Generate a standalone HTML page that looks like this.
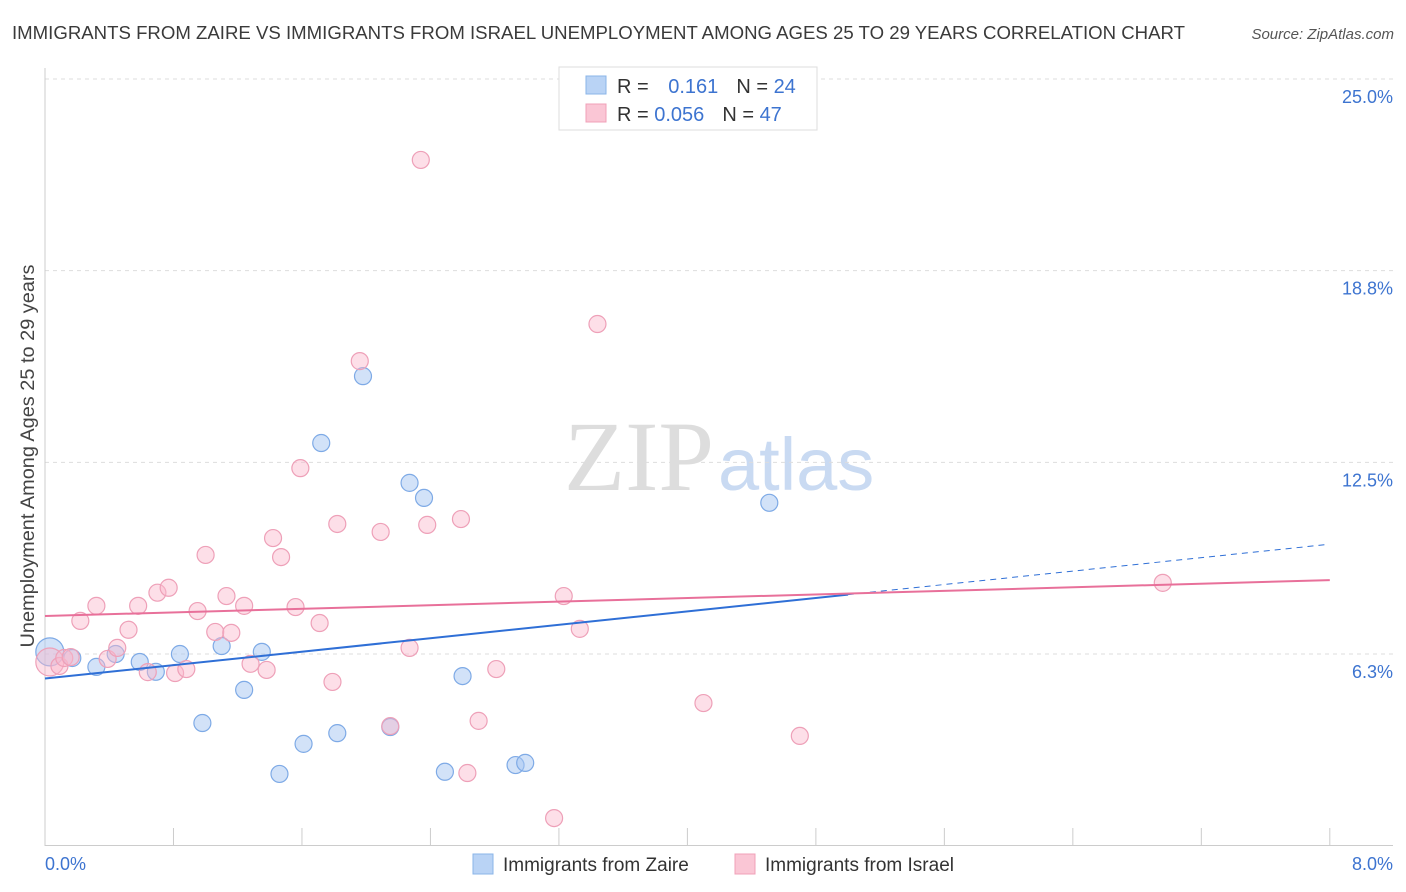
<!DOCTYPE html>
<html><head><meta charset="utf-8"><style>
body{margin:0;background:#fff;font-family:"Liberation Sans",sans-serif;}
#wrap{position:relative;width:1406px;height:892px;overflow:hidden;}
</style></head><body>
<div id="wrap">
<svg id="svg" width="1406" height="892" xmlns="http://www.w3.org/2000/svg">
<text x="12" y="39" font-size="18" textLength="1173" lengthAdjust="spacingAndGlyphs" fill="#3a3a3a">IMMIGRANTS FROM ZAIRE VS IMMIGRANTS FROM ISRAEL UNEMPLOYMENT AMONG AGES 25 TO 29 YEARS CORRELATION CHART</text>
<text x="1394" y="39" font-size="15" fill="#555" font-style="italic" text-anchor="end">Source: ZipAtlas.com</text>
<text x="714" y="490" font-size="100" fill="#ddd" text-anchor="end" font-family="Liberation Serif,serif">ZIP</text>
<text x="718" y="490" font-size="74" fill="#c9daf2">atlas</text>
<text transform="translate(34,456) rotate(-90)" font-size="19" textLength="383" lengthAdjust="spacingAndGlyphs" fill="#444" text-anchor="middle">Unemployment Among Ages 25 to 29 years</text>
<g id="grid"></g><g id="marks"></g>
<g>
<rect x="559" y="67" width="258" height="63" fill="#fff" stroke="#ddd"/>
<rect x="586" y="76" width="20" height="18" fill="#b9d3f5" stroke="#8ab4e8"/>
<rect x="586" y="104" width="20" height="18" fill="#fac6d5" stroke="#f0a0b8"/>
<text x="617" y="93" font-size="20" fill="#333">R = <tspan fill="#3d74d0" dx="14">0.161</tspan><tspan dx="18" fill="#333">N = </tspan><tspan fill="#3d74d0">24</tspan></text>
<text x="617" y="121" font-size="20" fill="#333">R = <tspan fill="#3d74d0">0.056</tspan><tspan dx="18" fill="#333">N = </tspan><tspan fill="#3d74d0">47</tspan></text>
</g>
<g>
<rect x="473" y="854" width="20" height="20" fill="#b9d3f5" stroke="#8ab4e8"/>
<text x="503" y="871" font-size="19" fill="#333">Immigrants from Zaire</text>
<rect x="735" y="854" width="20" height="20" fill="#fac6d5" stroke="#f0a0b8"/>
<text x="765" y="871" font-size="19" fill="#333">Immigrants from Israel</text>
</g>
</svg></div>
<script>
const zaireX=[.03,.17,.32,.44,.59,.69,.84,.98,1.10,1.24,1.35,1.46,1.61,1.72,1.82,1.98,2.15,2.27,2.36,2.49,2.60,2.93,2.99,4.51];
const zaireY=[6.32,6.12,5.83,6.25,5.99,5.67,6.25,4.00,6.51,5.08,6.32,2.34,3.32,13.13,3.67,15.31,3.87,11.83,11.34,2.41,5.53,2.63,2.70,11.18];
const israelX=[.03,.09,.12,.16,.22,.32,.39,.45,.52,.58,.64,.70,.77,.81,.88,.95,1.00,1.06,1.13,1.16,1.24,1.28,1.38,1.42,1.47,1.56,1.59,1.71,1.79,1.82,1.96,2.09,2.15,2.27,2.34,2.38,2.59,2.63,2.70,2.81,3.17,3.23,3.33,3.44,4.10,4.70,6.96];
const israelY=[5.99,5.86,6.12,6.15,7.33,7.82,6.09,6.45,7.04,7.82,5.66,8.25,8.41,5.63,5.76,7.65,9.48,6.97,8.14,6.94,7.82,5.93,5.73,10.03,9.41,7.78,12.31,7.26,5.34,10.49,15.80,10.23,3.90,6.45,22.36,10.46,10.65,2.37,4.07,5.76,0.90,8.14,7.07,17.01,4.65,3.58,8.57];
const zaireTrend=[5.45,9.83];
const israelTrend=[7.49,8.66];
const yTicks=[6.3,12.5,18.8,25.0];
const yTickLabels=["6.3%","12.5%","18.8%","25.0%"];
const xTickLabels=["0.0%","8.0%"];
const NS="http://www.w3.org/2000/svg";
const X=v=>45+v*160.6, Y=v=>845.7-v*30.67;
function el(t,a,p){const e=document.createElementNS(NS,t);for(const k in a)e.setAttribute(k,a[k]);p.appendChild(e);return e;}
const grid=document.getElementById('grid'),marks=document.getElementById('marks');
yTicks.forEach((t,i)=>{
 const yy=Y(t===6.3?6.25:t===18.8?18.75:t);
 const l=el('line',{x1:45,x2:1393,y1:yy,y2:yy,stroke:'#ddd','stroke-dasharray':'4,4'},grid);
 
 
 const tx=el('text',{x:1393,y:yy+24,'font-size':18,fill:'#3d74d0','text-anchor':'end'},grid);
 tx.textContent=yTickLabels[i];
 
 
});
const ax=el('line',{x1:45,x2:1393,y1:845.5,y2:845.5,stroke:'#ccc'},grid);


const ay=el('line',{x1:45,x2:45,y1:68,y2:846,stroke:'#ccc'},grid);


for(let i=0;i<=10;i++){const xx=X(i*0.8);const t=el('line',{x1:xx,x2:xx,y1:828,y2:846,stroke:'#ccc'},grid);
 
 }
[[0,'start',45],[1,'end',1393]].forEach(([i,a,xx])=>{const t=el('text',{x:xx,y:870,'font-size':18,fill:'#3d74d0','text-anchor':a},grid);t.textContent=xTickLabels[i];
 
 });
function dots(xs,ys,fill,stroke,name){xs.forEach((x,i)=>{const c=el('circle',{cx:X(x),cy:Y(ys[i]),r:i===0?14:8.5,fill:fill,stroke:stroke,'stroke-width':1.2},marks);
 
 });}
dots(zaireX,zaireY,'rgba(165,198,242,0.5)','#7eaae6','zaire-point');
dots(israelX,israelY,'rgba(250,185,205,0.45)','#eea0b8','israel-point');
const yz=x=>zaireTrend[0]+(zaireTrend[1]-zaireTrend[0])*x/8;
const l1=el('line',{x1:X(0),y1:Y(yz(0)),x2:X(5),y2:Y(yz(5)),stroke:'#2f6fd6','stroke-width':2},marks);


const l2=el('line',{x1:X(5),y1:Y(yz(5)),x2:X(7.97),y2:Y(yz(7.97)),stroke:'#2f6fd6','stroke-width':1,'stroke-dasharray':'6,5'},marks);


const l3=el('line',{x1:X(0),y1:Y(israelTrend[0]),x2:X(8),y2:Y(israelTrend[1]),stroke:'#e8709a','stroke-width':2},marks);


</script>
</body></html>
